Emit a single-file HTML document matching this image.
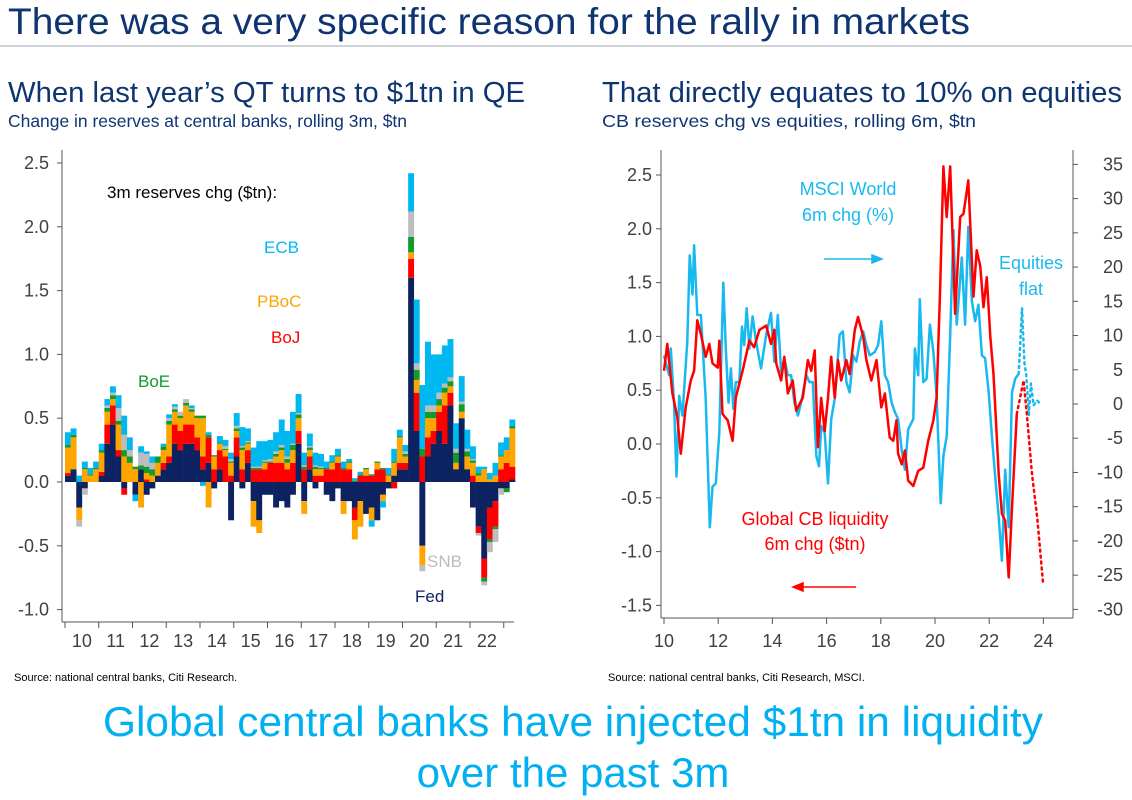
<!DOCTYPE html>
<html><head><meta charset="utf-8"><style>
body{margin:0;width:1132px;height:800px;background:#fff;overflow:hidden;font-family:"Liberation Sans",Arial,sans-serif;}
svg{position:absolute;left:0;top:0}
</style></head><body>
<svg id="s" width="1132" height="800" xmlns="http://www.w3.org/2000/svg" font-family="Liberation Sans, Arial, sans-serif">
<text x="8" y="34" font-size="37" fill="#0F3472" textLength="962" lengthAdjust="spacingAndGlyphs">There was a very specific reason for the rally in markets</text>
<line x1="0" y1="46" x2="1132" y2="46" stroke="#BFC3C8" stroke-width="1.5"/>
<text x="8" y="102" font-size="29" fill="#0F3472" textLength="517" lengthAdjust="spacingAndGlyphs">When last year’s QT turns to $1tn in QE</text>
<text x="8" y="127" font-size="17.5" fill="#0F3472" textLength="399" lengthAdjust="spacingAndGlyphs">Change in reserves at central banks, rolling 3m, $tn</text>
<text x="602" y="102" font-size="29" fill="#0F3472" textLength="520" lengthAdjust="spacingAndGlyphs">That directly equates to 10% on equities</text>
<text x="602" y="127" font-size="17.5" fill="#0F3472" textLength="374" lengthAdjust="spacingAndGlyphs">CB reserves chg vs equities, rolling 6m, $tn</text>
<text x="14" y="681" font-size="11" fill="#000">Source: national central banks, Citi Research.</text>
<text x="608" y="681" font-size="11" fill="#000">Source: national central banks, Citi Research, MSCI.</text>
<text x="573" y="736" font-size="42" fill="#00B0F0" text-anchor="middle" textLength="940" lengthAdjust="spacingAndGlyphs">Global central banks have injected $1tn in liquidity</text>
<text x="573" y="787" font-size="42" fill="#00B0F0" text-anchor="middle">over the past 3m</text>
<g id="L"></g>
<g id="R"></g>
</svg>
<script>
// ---- Left chart data (bimonthly, from Jan 2010) ----
const fedVals=[0.05,0.1,-0.2,-0.05,0,0, 0.05,0.3,0.45,0.2,-0.05,0, -0.1,0.1,-0.1,-0.05,0.05,0.1, 0.15,0.3,0.25,0.3,0.3,0.25, 0.1,0.15,-0.05,0.1,0,-0.3, 0.2,-0.05,0.15,-0.15,-0.3,-0.1, -0.1,-0.2,-0.15,-0.2,-0.1,0.3, -0.15,0.1,-0.05,0,-0.1,-0.15, -0.05,-0.15,-0.15,-0.2,-0.15,-0.25, -0.2,-0.3,-0.1,-0.05,0.05,0.1, 0.1,1.6,0.4,-0.5,0.2,0.3, 0.4,0.3,0.6,0.1,0.5,0.1, -0.2,-0.35,-0.6,-0.2,-0.15,-0.05, -0.05,0.02];
const bojVals=[0.02,0,0,0,0,0, 0.03,0.15,0.15,0.05,-0.05,0, 0,0,0.02,0,0,0.05, 0.05,0.15,0.15,0.15,0.15,0.1, 0.1,0.2,0.1,0.15,0.2,0.05, 0.15,0.1,0.1,0.1,0.1,0.1, 0.15,0.15,0.15,0.1,0.15,0.1, 0.1,0.1,0.05,0.05,0.1,0.1, 0.15,0.1,0.1,-0.1,0.05,0.05, 0.05,0.1,0.1,0,-0.05,0.05, 0.05,0.15,0.3,0.2,0.15,0.1, 0.15,0.3,0.1,0,0,0, 0.05,-0.05,-0.15,-0.25,-0.2,0.1, 0.15,0.1];
const pbocVals=[0.2,0.25,-0.1,0.1,0.05,0.1, 0.15,0.1,0.05,0.2,0.2,0.15, 0.1,-0.2,0.05,0.05,0.1,0.1, 0.25,0.1,0.1,0.15,0.1,0.15, 0.3,-0.2,0.1,0.05,0.05,0.1, 0.05,0.15,0.05,-0.2,-0.1,0.05, 0,0.05,0.1,0.05,0.1,0.1, -0.1,0.05,0.05,0.05,0,0.05, 0.05,-0.1,0.05,-0.15,-0.2,0.05, -0.1,0.05,-0.05,0.05,0.1,0.2, 0.05,0.05,0.1,-0.15,0.15,0.1, 0.05,0.1,0.05,0.05,0.05,0.1, 0.1,0.05,0.1,0.02,0.05,0.1, 0.1,0.3];
const boeVals=[0.02,0.02,0,0.01,0.01,0.01, 0.02,0.03,0.03,0.03,0.05,0.05, 0.02,0.03,0.05,0.05,0.05,0.03, 0.03,0.02,0.02,0.02,0.02,0.02, 0.02,0.02,0.01,0.01,0.01,0.01, 0.02,0.02,0.01,0.01,0.01,0.01, 0.01,0.02,0.02,0.03,0.04,0.03, 0.02,0.02,0.02,0.01,0.01,0.01, 0.01,0.01,0.01,0.01,0.01,0.01, 0.01,0.01,0.01,0.01,0.01,0.01, 0.02,0.12,0.08,0.06,0.05,0.05, 0.05,0.04,0.04,0.08,0.06,0.04, 0.02,0.02,-0.03,-0.02,-0.02,0.01, -0.03,0.02];
const snbVals=[0,0,-0.05,-0.05,0,0, 0,0.02,0.02,0.1,0.12,0.05, 0,0.1,0.1,0.05,0,0, 0.02,0.02,0.03,0.03,0.01,0, 0,0,0,0,0.02,0.02, 0.02,0.01,0.01,0.01,0.01,0.01, 0.02,0.02,0.02,0.02,0.01,0.01, 0.01,0.01,0.01,0.01,0,0, 0,0,0,0,0,0, 0,0,0,0,0,0, 0.02,0.2,0.05,-0.05,0.05,0.05, 0.05,0.03,0.03,0.03,0.02,0.02, 0.01,-0.02,-0.03,-0.08,-0.1,-0.05, 0,0];
const ecbVals=[0.1,0.05,0.05,0.05,0.05,0.05, 0.05,0.05,0.05,0.1,0.15,0.1, -0.05,0.05,0.02,0.05,0,0.02, 0.03,0.02,0,0,0.02,0, -0.03,0.02,0,0.05,0.05,0.05, 0.1,0.15,0.1,0.15,0.2,0.15, 0.15,0.15,0.2,0.2,0.25,0.15, 0.1,0.1,0.1,0.1,0.05,0.05, 0.05,0.05,0.02,0.02,0.02,0, -0.05,0,-0.05,0.05,0.1,0.05, 0.05,0.3,0.5,0.5,0.5,0.4, 0.3,0.3,0.3,0.2,0.2,0.15, 0.1,0.05,0.02,0.05,0.1,0.1, 0.1,0.05];
const leftYTicks=[-1.0,-0.5,0.0,0.5,1.0,1.5,2.0,2.5];
const leftYears=["10","11","12","13","14","15","16","17","18","19","20","21","22"];

// ---- Right chart data ----
const cbDates=[10.00,10.12,10.31,10.49,10.62,10.80,10.99,11.11,11.23,11.36,11.54,11.67,11.79,11.98,12.04,12.16,12.35,12.53,12.65,12.90,13.15,13.33,13.52,13.77,13.95,14.07,14.14,14.32,14.44,14.57,14.75,14.88,15.12,15.31,15.43,15.56,15.68,15.80,15.93,16.05,16.17,16.30,16.42,16.54,16.73,16.85,17.04,17.16,17.35,17.47,17.65,17.84,18.02,18.15,18.33,18.46,18.58,18.64,18.77,18.89,19.01,19.20,19.38,19.57,19.75,19.94,20.06,20.19,20.31,20.43,20.56,20.74,20.93,21.05,21.23,21.42,21.54,21.67,21.79,21.91,22.04,22.16,22.35,22.47,22.59,22.72,22.84,23.02];
const cbVals=[0.68,0.93,0.47,0.25,-0.09,0.34,0.59,0.68,1.15,1.02,0.81,0.93,0.75,0.71,0.96,0.28,0.22,0.03,0.43,0.68,0.96,0.9,1.06,1.1,0.93,1.06,0.75,0.59,0.81,0.47,0.59,0.31,0.43,0.78,0.68,0.87,-0.03,0.43,0.12,0.43,0.81,0.43,0.78,0.59,0.78,0.65,1.06,1.18,1.0,0.78,0.59,0.78,0.34,0.47,0.06,0.03,0.22,-0.09,-0.19,-0.06,-0.34,-0.39,-0.25,-0.22,0.03,0.22,0.43,1.43,2.58,2.11,2.58,1.21,2.11,2.14,2.45,1.37,1.8,1.65,1.27,1.55,1.0,0.65,-0.28,-0.65,-0.71,-1.24,-0.59,0.28];
const cbProjDates=[23.02,23.27,23.40,23.58,23.77,23.99];
const cbProjVals=[0.28,0.59,0.25,-0.28,-0.68,-1.3];
const msciDates=[10.00,10.19,10.25,10.37,10.46,10.56,10.68,10.86,10.95,11.05,11.11,11.23,11.36,11.54,11.69,11.79,11.91,12.04,12.19,12.28,12.38,12.47,12.56,12.65,12.78,12.88,12.96,13.05,13.15,13.27,13.40,13.58,13.77,13.95,14.07,14.20,14.32,14.44,14.57,14.69,14.81,14.94,15.06,15.25,15.37,15.49,15.62,15.72,15.80,15.93,16.05,16.17,16.30,16.48,16.60,16.73,16.85,16.98,17.10,17.22,17.35,17.47,17.59,17.78,17.90,18.02,18.15,18.27,18.40,18.52,18.64,18.77,18.89,19.01,19.20,19.26,19.38,19.44,19.57,19.69,19.81,19.94,20.06,20.21,20.31,20.43,20.56,20.68,20.80,20.99,21.11,21.23,21.36,21.48,21.60,21.73,21.85,21.98,22.10,22.22,22.35,22.47,22.59,22.72,22.84,22.96,23.09];
const msciVals=[7.1,4.2,8.1,0.2,-10.6,1.2,-1.7,9.1,21.7,16,23.2,13,13,0.7,-18,-12.1,-11.6,-4.2,17.7,8.1,0.2,5.2,-0.7,3.2,3.2,11.3,8.6,14,8.1,12.8,9.1,5.2,10.1,13.3,6.2,13,4.7,6.7,4.2,4.2,0.2,-1.7,0.2,4.2,3.2,3.2,-7.6,-9.1,-3.2,-4.2,-11.6,-2.2,0.7,10.1,10.6,3.2,1.7,7.1,6.2,9.1,10.6,8.6,7.1,7.6,8.6,12.1,4.2,3.2,0.2,-1.2,-2.2,-6.7,-9.6,-3.7,-2.2,8.1,4.2,15.3,3.2,3.7,11.6,7.6,1.2,-14.5,-7.6,-4.7,10.1,25.4,11.6,21.4,11.6,25.9,15,12.1,14.5,7.1,6.7,1.7,-4.7,-10.6,-16.5,-22.9,-9.6,-18,1.7,3.7,4.4];
const msciProjDates=[23.09,23.21,23.30,23.37,23.46,23.54,23.64,23.77,23.89];
const msciProjVals=[4.4,14,6,4.2,-1.7,3,-0.2,0.5,0];
const rightXTicks=[10,12,14,16,18,20,22,24];
const rightLTicks=[-1.5,-1.0,-0.5,0.0,0.5,1.0,1.5,2.0,2.5];
const rightRTicks=[-30,-25,-20,-15,-10,-5,0,5,10,15,20,25,30,35];

const NS="http://www.w3.org/2000/svg";
function mk(parent,tag,attrs,text){const e=document.createElementNS(NS,tag);for(const k in attrs)e.setAttribute(k,attrs[k]);if(text!==undefined)e.textContent=text;parent.appendChild(e);return e;}

// ---- Left chart ----
const L=document.getElementById('L');
const lx=yr=>65+(yr-2010)*33.75;
const ly=v=>482-v*127.6;
const bw=33.75/6;
const series=[["fed",fedVals,"#0D2260"],["boj",bojVals,"#FF0000"],["pboc",pbocVals,"#FFA500"],["boe",boeVals,"#129A2A"],["snb",snbVals,"#BDBDBD"],["ecb",ecbVals,"#00B8F0"]];
for(let i=0;i<fedVals.length;i++){
  let pos=0,neg=0;const x=lx(2010+i/6);
  for(const [nm,arr,col] of series){
    const v=arr[i]||0;if(v===0)continue;
    let y0,y1;
    if(v>0){y0=ly(pos+v);y1=ly(pos);pos+=v;}else{y0=ly(neg);y1=ly(neg+v);neg+=v;}
    const r=mk(L,'rect',{x:x.toFixed(2),y:y0.toFixed(2),width:(bw+0.3).toFixed(2),height:(y1-y0).toFixed(2),fill:col});
    
    
  }
}
const lax=mk(L,'line',{x1:62,y1:150,x2:62,y2:622,stroke:'#555','stroke-width':1});


const lbx=mk(L,'line',{x1:62,y1:622,x2:514,y2:622,stroke:'#555','stroke-width':1});


for(const t of leftYTicks){
  mk(L,'line',{x1:57,y1:ly(t),x2:62,y2:ly(t),stroke:'#555'});
  const tx=mk(L,'text',{x:49,y:ly(t)+6,'font-size':18,fill:'#404040','text-anchor':'end'},t.toFixed(1));
  
  
}
leftYears.forEach((lab,i)=>{
  mk(L,'line',{x1:lx(2010+i),y1:622,x2:lx(2010+i),y2:628,stroke:'#555'});
  const tx=mk(L,'text',{x:lx(2010+i+0.5),y:647,'font-size':18,fill:'#404040','text-anchor':'middle'},lab);
  
  
});
mk(L,'line',{x1:lx(2023),y1:622,x2:lx(2023),y2:628,stroke:'#555'});
const ann=[["3m reserves chg ($tn):",107,198,"#000","legend-title"],["ECB",264,253,"#00B8F0","legend-ecb"],["PBoC",257,307,"#FFA500","legend-pboc"],["BoJ",271,343,"#FF0000","legend-boj"],["BoE",138,387,"#129A2A","legend-boe"],["SNB",427,567,"#BDBDBD","legend-snb"],["Fed",415,602,"#0D2260","legend-fed"]];
for(const a of ann){const t=mk(L,'text',{x:a[1],y:a[2],'font-size':17,fill:a[3]},a[0]);
  
  }

// ---- Right chart ----
const R=document.getElementById('R');
const rx=yr=>664+(yr-10)*27.1;
const ryl=v=>444-v*107.6;
const ryr=p=>404-p*6.846;
for(const [d,v,f,col,dash,nm] of [[msciDates,msciVals,ryr,'#19B9F0',null,'msci-line'],[cbDates,cbVals,ryl,'#FF0000',null,'cb-liquidity-line'],[msciProjDates,msciProjVals,ryr,'#19B9F0','2 4','msci-projection'],[cbProjDates,cbProjVals,ryl,'#FF0000','2 4','cb-liquidity-projection']]){
  const pts=d.map((x,i)=>rx(x).toFixed(1)+','+f(v[i]).toFixed(1)).join(' ');
  const a={points:pts,fill:'none',stroke:col,'stroke-width':2.5,'stroke-linejoin':'round'};
  if(dash){a['stroke-dasharray']=dash;a['stroke-linecap']='round';}
  const p=mk(R,'polyline',a);
  
  
}
const ra1=mk(R,'line',{x1:661,y1:150,x2:661,y2:618,stroke:'#555'});


const ra2=mk(R,'line',{x1:1073,y1:150,x2:1073,y2:618,stroke:'#555'});


const ra3=mk(R,'line',{x1:661,y1:618,x2:1073,y2:618,stroke:'#555'});


for(const t of rightLTicks){
  mk(R,'line',{x1:656,y1:ryl(t),x2:661,y2:ryl(t),stroke:'#555'});
  const tx=mk(R,'text',{x:652,y:ryl(t)+6,'font-size':18,fill:'#404040','text-anchor':'end'},t.toFixed(1));
  
  
}
for(const t of rightRTicks){
  mk(R,'line',{x1:1073,y1:ryr(t),x2:1078,y2:ryr(t),stroke:'#555'});
  const tx=mk(R,'text',{x:1123,y:ryr(t)+6,'font-size':18,fill:'#404040','text-anchor':'end'},String(t));
  
  
}
for(const t of rightXTicks){
  mk(R,'line',{x1:rx(t),y1:618,x2:rx(t),y2:624,stroke:'#555'});
  const tx=mk(R,'text',{x:rx(t),y:647,'font-size':18,fill:'#404040','text-anchor':'middle'},String(t));
  
  
}
const rann=[["MSCI World",848,195,"#19B9F0","msci-label-1"],["6m chg (%)",848,221,"#19B9F0","msci-label-2"],["Equities",1031,269,"#19B9F0","equities-flat-label-1"],["flat",1031,295,"#19B9F0","equities-flat-label-2"],["Global CB liquidity",815,525,"#FF0000","cb-label-1"],["6m chg ($tn)",815,550,"#FF0000","cb-label-2"]];
for(const a of rann){const t=mk(R,'text',{x:a[1],y:a[2],'font-size':18,fill:a[3],'text-anchor':'middle'},a[0]);
  
  }
const ar1=mk(R,'path',{d:'M824 259 H872 M872 255 L882 259 L872 263 Z',stroke:'#19B9F0','stroke-width':1.5,fill:'#19B9F0'});


const ar2=mk(R,'path',{d:'M856 587 H803 M803 583 L793 587 L803 591 Z',stroke:'#FF0000','stroke-width':1.5,fill:'#FF0000'});


</script>
</body></html>
